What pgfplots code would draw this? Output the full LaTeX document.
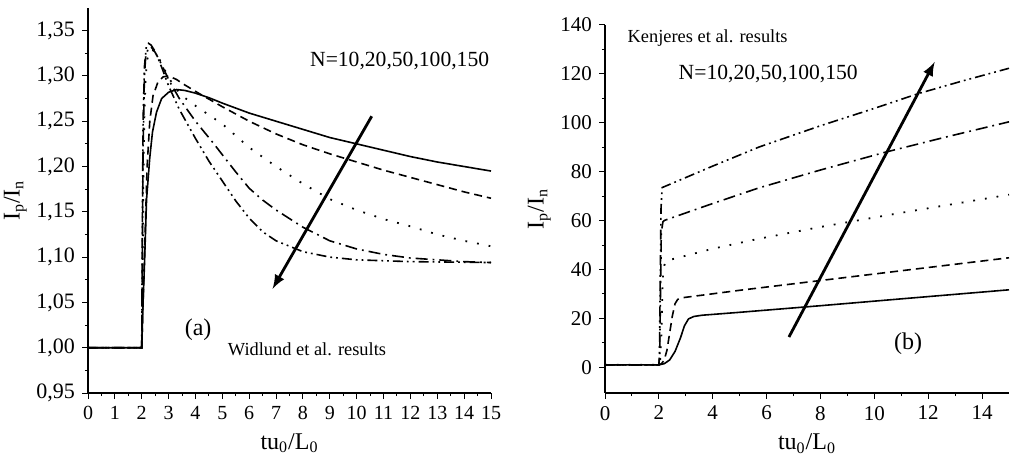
\documentclass[border=0pt]{standalone}
\usepackage{fontspec}
\setmainfont{Liberation Serif}
\usepackage{pgfplots}
\pgfplotsset{compat=1.18}

\pgfplotsset{
  panel/.style={
    scale only axis,
    axis x line*=bottom, axis y line*=left,
    axis line style={-, line width=0.7pt},
    tick align=outside,
    major tick length=3pt, minor tick length=1.6pt,
    every tick/.style={black, line width=0.5pt},
    tick label style={font=\fontsize{10.5}{12}\selectfont},
    label style={font=\fontsize{12}{13}\selectfont},
    /pgf/number format/assume math mode=true,
    xlabel={tu\textsubscript{0}/L\textsubscript{0}},
    ylabel={I\textsubscript{p}/I\textsubscript{n}},
    minor x tick num=1, minor y tick num=1,
  },
  c1/.style={black, line width=0.8pt, solid},
  c2/.style={black, line width=0.8pt, dash pattern=on 4pt off 2.5pt},
  c3/.style={black, line width=0.9pt, dash pattern=on 0.9pt off 5pt},
  c4/.style={black, line width=0.8pt, dash pattern=on 6pt off 2.5pt on 0.9pt off 2.5pt},
  c5/.style={black, line width=0.8pt, dash pattern=on 5pt off 2pt on 0.9pt off 2pt on 0.9pt off 2pt},
}

\begin{document}
\begin{tikzpicture}
\path[use as bounding box] (0,0) rectangle (505pt,232.5pt);

% (a) Widlund et al.
\begin{axis}[panel,
  at={(44pt,36pt)}, anchor=south west,
  width=201.5pt, height=192.5pt,
  xmin=0, xmax=15, ymin=0.95, ymax=1.375,
  xtick={0,1,...,15},
  ytick={0.95,1.00,1.05,1.10,1.15,1.20,1.25,1.30,1.35},
  xticklabel style={font=\fontsize{10}{12}\selectfont},
  yticklabel style={font=\fontsize{11}{12}\selectfont, /pgf/number format/.cd, use comma, fixed, fixed zerofill, precision=2},
  ylabel style={yshift=-2pt},
]
\addplot[c1] coordinates {(0,1.000)(2.0,1.000)(2.05,1.05)(2.1,1.09)(2.18,1.164)(2.3,1.21)(2.4,1.238)(2.55,1.260)(2.74,1.275)(3.0,1.282)(3.3,1.285)(3.6,1.284)(4,1.281)(4.5,1.276)(5,1.270)(6,1.259)(7,1.250)(8,1.241)(9,1.232)(10,1.225)(11,1.218)(12,1.211)(13,1.205)(14,1.200)(15,1.195)};
\addplot[c2] coordinates {(0,1.000)(2.0,1.000)(2.05,1.05)(2.1,1.10)(2.2,1.20)(2.3,1.25)(2.42,1.278)(2.6,1.293)(2.8,1.299)(3.0,1.300)(3.3,1.296)(3.55,1.291)(4.17,1.280)(5,1.266)(6,1.250)(7,1.236)(8,1.224)(9,1.214)(10,1.205)(11,1.196)(12,1.188)(13,1.180)(14,1.172)(15,1.165)};
\addplot[c3] coordinates {(0,1.000)(2.0,1.000)(2.03,1.08)(2.06,1.18)(2.1,1.26)(2.15,1.30)(2.2,1.318)(2.3,1.327)(2.4,1.329)(2.6,1.322)(2.8,1.310)(3.0,1.298)(3.3,1.285)(3.6,1.276)(4,1.267)(5,1.247)(6,1.221)(7,1.200)(8,1.181)(9,1.164)(10,1.152)(11,1.142)(12,1.134)(13,1.125)(14,1.118)(15,1.112)};
\addplot[c4] coordinates {(0,1.000)(2.0,1.000)(2.02,1.10)(2.05,1.22)(2.1,1.30)(2.15,1.322)(2.25,1.331)(2.35,1.332)(2.5,1.326)(2.75,1.312)(3.0,1.296)(3.4,1.275)(4,1.250)(4.66,1.226)(5,1.213)(5.5,1.194)(6,1.176)(6.5,1.163)(7,1.152)(8,1.133)(9,1.118)(10,1.109)(11,1.103)(12,1.099)(13,1.097)(14,1.095)(15,1.094)};
\addplot[c5] coordinates {(0,1.000)(2.0,1.000)(2.02,1.12)(2.05,1.25)(2.1,1.31)(2.17,1.332)(2.25,1.336)(2.35,1.334)(2.5,1.327)(2.75,1.309)(3.0,1.289)(3.4,1.263)(4,1.231)(4.5,1.206)(5,1.184)(5.5,1.162)(6,1.143)(6.5,1.128)(7,1.118)(8,1.106)(9,1.100)(10,1.097)(11,1.096)(12,1.095)(15,1.094)};
\addplot[black, line width=1.4pt, -{latex}] coordinates {(10.56,1.2555)(6.87,1.065)};
\node[font=\fontsize{10.8}{12}\selectfont] at (axis cs:11.6,1.316) {N=10,20,50,100,150};
\node[font=\fontsize{12}{13}\selectfont] at (axis cs:4.1,1.02) {(a)};
\node[font=\fontsize{9.2}{10}\selectfont] at (axis cs:8.15,0.998) {Widlund et al. results};
\end{axis}

% (b) Kenjeres et al.
\begin{axis}[panel,
  at={(302.5pt,36pt)}, anchor=south west,
  width=202pt, height=184pt,
  xmin=0, xmax=15, ymin=-10.5, ymax=140,
  xtick={0,2,...,14},
  ytick={0,20,...,140},
  ylabel style={yshift=-2pt},
]
\addplot[c1] coordinates {(0,1)(2.0,1)(2.2,1.5)(2.4,3)(2.6,6.5)(2.8,12)(2.95,17)(3.1,19.8)(3.3,20.8)(3.6,21.3)(5,22.5)(8,25.2)(11,28)(15,31.7)};
\addplot[c2] coordinates {(0,1)(2.0,1)(2.1,1.5)(2.2,3)(2.3,7)(2.4,14)(2.5,21)(2.6,26)(2.7,27.8)(2.9,28.5)(5,31.5)(8,35.5)(11,39.5)(15,44.8)};
\addplot[c3] coordinates {(0,1)(2.0,1)(2.05,3)(2.1,15)(2.13,30)(2.16,40)(2.25,43.5)(4,48.5)(5.72,52.6)(8,57.4)(11,63.2)(15,70.6)};
\addplot[c4] coordinates {(0,1)(2.0,1)(2.03,5)(2.06,30)(2.09,55)(2.15,59.5)(2.21,60.1)(4,67)(5.72,73.4)(8,80.7)(10.45,88.1)(12.7,94.3)(15,100.4)};
\addplot[c5] coordinates {(0,1)(2.0,1)(2.02,5)(2.05,35)(2.08,65)(2.12,73.5)(4,82.3)(5.72,90.1)(8,98.8)(10,105.9)(11.62,111.9)(13.3,117.2)(15,122.3)};
\addplot[black, line width=1.4pt, -{latex}] coordinates {(6.83,12.4)(12.24,124.9)};
\node[font=\fontsize{9.2}{10}\selectfont] at (axis cs:3.81,134.8) {Kenjeres et al. results};
\node[font=\fontsize{10.8}{12}\selectfont] at (axis cs:6.06,119.8) {N=10,20,50,100,150};
\node[font=\fontsize{12}{13}\selectfont] at (axis cs:11.25,9.7) {(b)};
\end{axis}
\end{tikzpicture}
\end{document}
